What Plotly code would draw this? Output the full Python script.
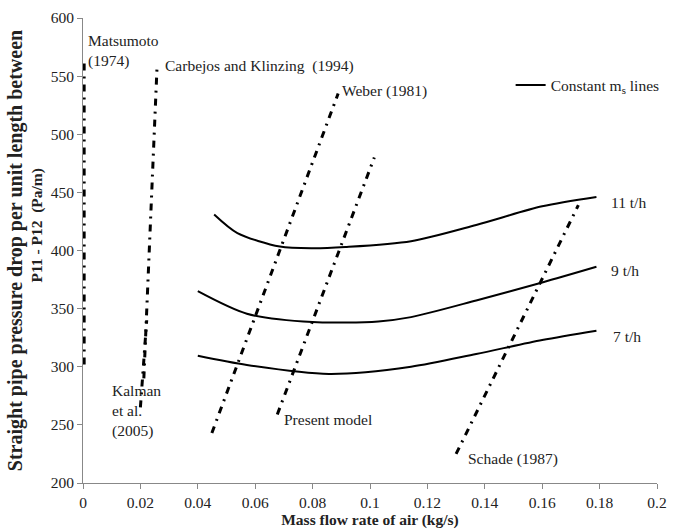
import plotly.graph_objects as go

# Constant solids mass flow lines (x: kg/s, y: Pa/m)
x_11 = [0.0457, 0.0538, 0.0686, 0.080, 0.0914, 0.1143, 0.137, 0.160, 0.1789]
y_11 = [431, 415, 403.4, 401.9, 403, 408, 422, 438, 446]
x_9 = [0.040, 0.0571, 0.080, 0.1029, 0.1143, 0.137, 0.160, 0.1789]
y_9 = [365, 345.6, 338.4, 339, 342.7, 357, 372.5, 386]
x_7 = [0.040, 0.0571, 0.0857, 0.1143, 0.137, 0.160, 0.1789]
y_7 = [309.4, 301.5, 293.8, 300, 311, 323, 331]

# Model lines (dash-dot)
models = {
    "Matsumoto (1974)": ([0.0004, 0.0004], [302, 564]),
    "Carbejos and Klinzing (1994)": ([0.0212, 0.0258], [290, 558]),
    "Kalman et al. (2005)": ([0.0200, 0.0222], [265, 340]),
    "Weber (1981)": ([0.0449, 0.0889], [243, 535]),
    "Present model": ([0.0677, 0.1015], [259, 480]),
    "Schade (1987)": ([0.130, 0.1726], [225, 439]),
}

x_ticks = [0, 0.02, 0.04, 0.06, 0.08, 0.1, 0.12, 0.14, 0.16, 0.18, 0.2]
x_tick_text = ["0", "0.02", "0.04", "0.06", "0.08", "0.1", "0.12", "0.14", "0.16", "0.18", "0.2"]
y_ticks = [200, 250, 300, 350, 400, 450, 500, 550, 600]

# Text labels: (text, x, y)
labels = [
    ("Matsumoto<br>(1974)", 0.0012, 572),
    ("Carbejos and Klinzing&nbsp;&nbsp;(1994)", 0.0277, 559),
    ("Weber (1981)", 0.0895, 537),
    ("Kalman<br>et al.<br>(2005)", 0.0095, 262),
    ("Present model", 0.0695, 255),
    ("Schade (1987)", 0.1335, 221),
    ("11 t/h", 0.1832, 441),
    ("9 t/h", 0.1832, 383),
    ("7 t/h", 0.1838, 326),
]

FONT = "Liberation Serif, Times New Roman, serif"
FS = 15.5

fig = go.Figure()

first = True
for xs, ys in [(x_11, y_11), (x_9, y_9), (x_7, y_7)]:
    fig.add_trace(go.Scatter(
        x=xs, y=ys, mode="lines", line=dict(color="black", width=2, shape="spline", smoothing=0.8),
        name="Constant m<sub>s</sub> lines", showlegend=first, hoverinfo="skip"))
    first = False

for name, (xs, ys) in models.items():
    fig.add_trace(go.Scatter(
        x=xs, y=ys, mode="lines", line=dict(color="black", width=3, dash="7px,6px,2px,6px"),
        name=name, showlegend=False, hoverinfo="skip"))

for text, x, y in labels:
    fig.add_annotation(x=x, y=y, text=text, showarrow=False, xanchor="left", yanchor="middle",
                       align="left", font=dict(family=FONT, size=FS, color="#222"))

ytitle = ("<b><span style='font-size:20px'>Straight pipe pressure drop per unit length between</span><br>"
          + "&nbsp;" * 13 + "P11 - P12&nbsp;&nbsp;(Pa/m)</b>")

fig.update_layout(
    width=676, height=532,
    margin=dict(l=83, r=9, t=15, b=48),
    paper_bgcolor="white", plot_bgcolor="white",
    font=dict(family=FONT, size=FS, color="#222"),
    legend=dict(x=0.745, y=0.855, xanchor="left", yanchor="middle", bgcolor="rgba(0,0,0,0)",
                font=dict(family=FONT, size=FS, color="#222"), itemwidth=30),
    xaxis=dict(range=[0, 0.2], tickvals=x_ticks, ticktext=x_tick_text, showgrid=False, zeroline=False,
               showline=True, linecolor="#888", linewidth=1, ticks="outside", ticklen=5, tickcolor="#888",
               tickfont=dict(family=FONT, size=FS, color="#222"),
               title=dict(text="<b>Mass flow rate of air (kg/s)</b>", font=dict(family=FONT, size=15.5), standoff=2)),
    yaxis=dict(range=[200, 600], tickvals=y_ticks, showgrid=False, zeroline=False,
               showline=True, linecolor="#888", linewidth=1, ticks="outside", ticklen=5, tickcolor="#888",
               tickfont=dict(family=FONT, size=FS, color="#222"),
               title=dict(text=ytitle, font=dict(family=FONT, size=15.5), standoff=4)),
)

fig.write_html("out.html")
